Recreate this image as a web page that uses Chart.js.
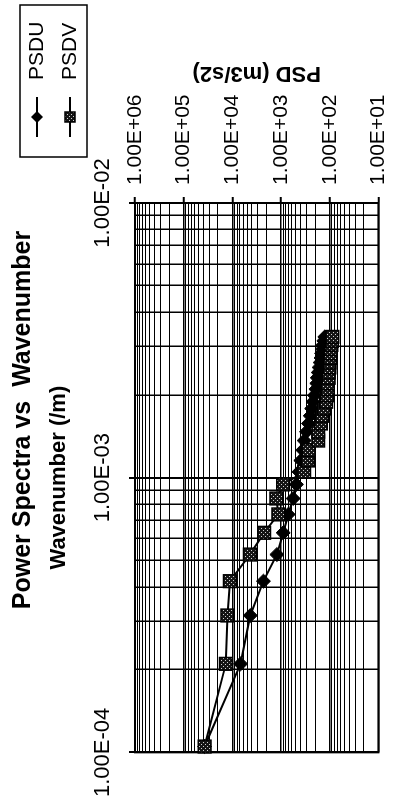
<!DOCTYPE html>
<html>
<head>
<meta charset="utf-8">
<title>Power Spectra vs Wavenumber</title>
<script src="https://cdn.jsdelivr.net/npm/chart.js@4.4.1/dist/chart.umd.min.js"></script>
<style>
    html, body { margin: 0; padding: 0; background: #fff; }
    body { width: 403px; height: 810px; overflow: hidden; position: relative; }
    /* el grafico original esta girado 90 grados */
    #giro { position: absolute; left: 0; top: 810px; width: 810px; height: 403px;
            transform-origin: 0 0; transform: rotate(-90deg); }
</style>
</head>
<body>
<div id="giro"><canvas id="psdChart" width="810" height="403"></canvas></div>
<script>
// Datos
const wavenumber = [1.05e-4, 2.10e-4, 3.15e-4, 4.20e-4, 5.25e-4, 6.30e-4, 7.35e-4, 8.40e-4, 9.45e-4, 1.05e-3,
    1.155e-3, 1.26e-3, 1.365e-3, 1.47e-3, 1.575e-3, 1.68e-3, 1.785e-3, 1.89e-3, 1.995e-3, 2.10e-3,
    2.205e-3, 2.31e-3, 2.415e-3, 2.52e-3, 2.625e-3, 2.73e-3, 2.835e-3, 2.94e-3, 3.045e-3, 3.15e-3, 3.255e-3];
const psdU = [37300, 6790, 4280, 2300, 1216, 903, 713, 564, 484, 428,
    392, 358, 335, 300, 274, 251, 235, 220, 206, 192,
    184, 180, 172, 165, 157, 151, 147, 141, 138, 132, 126];
const psdV = [37300, 13600, 12650, 11220, 4355, 2235, 1138, 1244, 903, 335,
    281, 268, 172, 172, 151, 144, 132, 118, 113, 110,
    110, 105, 105, 101, 101, 99, 97, 95, 92, 90, 88];

const wavenumberTicks = [1e-4, 1e-3, 1e-2];
const wavenumberLabels = ['1.00E-04', '1.00E-03', '1.00E-02'];
const psdTicks = [1e1, 1e2, 1e3, 1e4, 1e5, 1e6];
const psdLabels = ['1.00E+01', '1.00E+02', '1.00E+03', '1.00E+04', '1.00E+05', '1.00E+06'];
const minorSteps = [1, 2, 3, 4, 5, 6, 7, 8, 9];

const fuente = 'Liberation Sans, Arial, sans-serif';

// ticks de 1..9 por decada, como en Excel
function logTicks(majors) {
    const ticks = [];
    majors.forEach(function (m, i) {
        if (i === majors.length - 1) {
            ticks.push({ value: m, major: true });
            return;
        }
        minorSteps.forEach(function (s) {
            ticks.push({ value: m * s, major: s === 1 });
        });
    });
    return ticks;
}

const canvas = document.getElementById('psdChart');
const ctx = canvas.getContext('2d');

// relleno punteado de los cuadrados PSDV
const trama = document.createElement('canvas');
trama.width = 4; trama.height = 4;
const tctx = trama.getContext('2d');
tctx.fillStyle = '#151515';
tctx.fillRect(0, 0, 4, 4);
tctx.fillStyle = '#d0d0d0';
tctx.fillRect(1, 1, 1, 1);
tctx.fillRect(3, 3, 1, 1);
const patronV = ctx.createPattern(trama, 'repeat');

const puntosU = wavenumber.map((w, i) => ({ x: w, y: psdU[i] }));
const puntosV = wavenumber.map((w, i) => ({ x: w, y: psdV[i] }));

function diamante(c, x, y, r) {
    c.beginPath();
    c.moveTo(x, y - r); c.lineTo(x + r, y); c.lineTo(x, y + r); c.lineTo(x - r, y);
    c.closePath();
    c.fillStyle = '#000';
    c.fill();
}

function cuadrado(c, x, y, s) {
    c.fillStyle = patronV;
    c.fillRect(x - s / 2, y - s / 2, s, s);
    c.strokeStyle = '#000';
    c.lineWidth = 1.5;
    c.strokeRect(x - s / 2, y - s / 2, s, s);
}

const marcoYTextos = {
    id: 'marcoYTextos',
    beforeDatasetsDraw(chart) {
        const a = chart.chartArea;
        const c = chart.ctx;
        c.save();
        c.strokeStyle = '#000';
        c.lineWidth = 2;
        c.strokeRect(a.left, a.top, a.right - a.left, a.bottom - a.top);
        c.restore();
    },
    afterDraw(chart) {
        const c = chart.ctx;
        const y = chart.scales.y;
        c.save();
        c.fillStyle = '#000';
        // titulo
        c.font = 'bold 25px ' + fuente;
        c.textAlign = 'center';
        c.textBaseline = 'alphabetic';
        c.fillText('Power Spectra vs  Wavenumber', 390, 30);

        // titulo del eje PSD (girado como en el original)
        c.save();
        c.translate(737, (y.top + y.bottom) / 2);
        c.rotate(-Math.PI / 2);
        c.font = 'bold 22px ' + fuente;
        c.textBaseline = 'middle';
        c.fillText('PSD (m3/s2)', 0, 0);
        c.restore();

        // leyenda con recuadro
        c.strokeStyle = '#000';
        c.lineWidth = 1.5;
        c.strokeRect(653, 20, 152, 67);
        c.lineWidth = 2;
        [37, 70].forEach(function (ly) {
            c.beginPath();
            c.moveTo(673, ly); c.lineTo(713, ly);
            c.stroke();
        });
        diamante(c, 693, 37, 6);
        cuadrado(c, 693, 70, 10);
        c.fillStyle = '#000';
        c.font = '21px ' + fuente;
        c.textAlign = 'left';
        c.textBaseline = 'middle';
        c.fillText('PSDU', 730, 37);
        c.fillText('PSDV', 730, 70);
        c.restore();
    }
};

const psdChart = new Chart(ctx, {
    type: 'line',
    data: {
        datasets: [{
            label: 'PSDU',
            data: puntosU,
            borderColor: '#000',
            borderWidth: 2,
            pointStyle: 'rectRot',
            pointRadius: 7,
            pointBackgroundColor: '#000',
            pointBorderColor: '#000',
            pointBorderWidth: 1,
            clip: false,
            order: 2
        }, {
            label: 'PSDV',
            data: puntosV,
            borderColor: '#000',
            borderWidth: 2,
            pointStyle: 'rect',
            pointRadius: 9,
            pointBackgroundColor: patronV,
            pointBorderColor: '#000',
            pointBorderWidth: 1.5,
            clip: false,
            order: 1
        }]
    },
    options: {
        responsive: false,
        animation: false,
        devicePixelRatio: 1,
        layout: { padding: { left: 49, right: 83, top: 0, bottom: 9 } },
        plugins: {
            legend: { display: false },
            title: { display: false },
            tooltip: { enabled: false }
        },
        scales: {
            x: {
                type: 'logarithmic',
                position: 'top',
                min: 1e-4,
                max: 1e-2,
                afterBuildTicks: function (scale) { scale.ticks = logTicks(wavenumberTicks); },
                afterFit: function (scale) { scale.height = 135; },
                ticks: {
                    autoSkip: false,
                    maxRotation: 0,
                    minRotation: 0,
                    padding: 13,
                    color: '#000',
                    font: { family: fuente, size: 22 },
                    callback: function (value) {
                        const i = wavenumberTicks.indexOf(value);
                        return i >= 0 ? wavenumberLabels[i] : '';
                    }
                },
                grid: {
                    color: '#000',
                    lineWidth: (c) => (c.tick && c.tick.major ? 2 : 1.5),
                    tickLength: 6,
                    tickColor: (c) => (c.tick && c.tick.major ? '#000' : 'rgba(0,0,0,0)'),
                    tickWidth: 2
                },
                border: { color: '#000', width: 2 },
                title: {
                    display: true,
                    text: 'Wavenumber (/m)',
                    color: '#000',
                    font: { family: fuente, size: 22, weight: 'bold' },
                    padding: { top: 46, bottom: 0 }
                }
            },
            y: {
                type: 'logarithmic',
                position: 'right',
                min: 10,
                max: 1e6,
                afterBuildTicks: function (scale) { scale.ticks = logTicks(psdTicks); },
                afterFit: function (scale) { scale.width = 120; },
                ticks: {
                    autoSkip: false,
                    padding: 12,
                    color: '#000',
                    font: { family: fuente, size: 21 },
                    callback: function (value) {
                        const i = psdTicks.indexOf(value);
                        return i >= 0 ? psdLabels[i] : '';
                    }
                },
                grid: {
                    color: '#000',
                    lineWidth: (c) => (c.tick && c.tick.major ? 1.5 : 1),
                    tickLength: 6,
                    tickColor: (c) => (c.tick && c.tick.major ? '#000' : 'rgba(0,0,0,0)'),
                    tickWidth: 2
                },
                border: { color: '#000', width: 2 }
            }
        }
    },
    plugins: [marcoYTextos]
});
</script>
</body>
</html>
